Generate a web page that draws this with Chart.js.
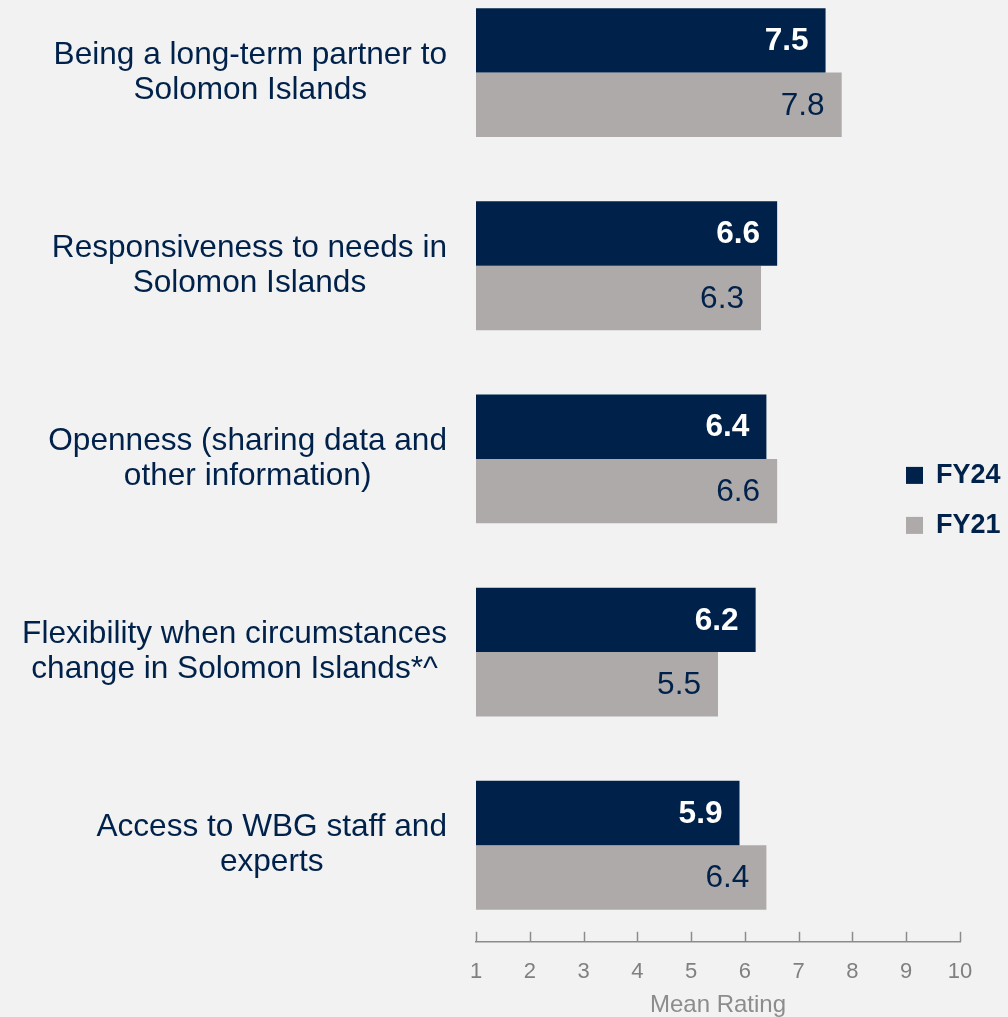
<!DOCTYPE html>
<html>
<head>
<meta charset="utf-8">
<script src="https://cdn.jsdelivr.net/npm/chart.js@4"></script>
<style>
  html, body { margin: 0; padding: 0; background: #f2f2f2; overflow: hidden; }
  #wrap { position: absolute; left: 0; top: -24px; width: 1008px; height: 1044px; }
</style>
</head>
<body>
<div id="wrap"><canvas id="ratingChart"></canvas></div>
<script>
// categories and values
const categories = [
    ['Being a long-term partner to', 'Solomon Islands'],
    ['Responsiveness to needs in', 'Solomon Islands'],
    ['Openness (sharing data and', 'other information)'],
    ['Flexibility when circumstances', 'change in Solomon Islands*^'],
    ['Access to WBG staff and', 'experts']
];
const fy24 = [7.5, 6.6, 6.4, 6.2, 5.9];
const fy21 = [7.8, 6.3, 6.6, 5.5, 6.4];
const xTicks = [1, 2, 3, 4, 5, 6, 7, 8, 9, 10];

const NAVY = '#00224a';
const GREY = '#aeaaaa';
const FONT = "'Liberation Sans', Arial, sans-serif";

// y labels: right aligned block, lines centred inside it
const yLabelPlugin = {
    id: 'yLabels',
    afterDraw(chart) {
        const ctx = chart.ctx;
        const yScale = chart.scales.y;
        const right = chart.chartArea.left - 29;
        ctx.save();
        ctx.font = '31.6px ' + FONT;
        ctx.fillStyle = NAVY;
        ctx.textAlign = 'center';
        ctx.textBaseline = 'middle';
        categories.forEach((lines, i) => {
            const y = yScale.getPixelForValue(i);
            const w = Math.max(...lines.map(l => ctx.measureText(l).width));
            const cx = right - w / 2;
            lines.forEach((l, j) => {
                ctx.fillText(l, cx, y + (j - (lines.length - 1) / 2) * 35);
            });
        });
        ctx.restore();
    }
};

// value labels inside the bar ends
const valueLabelPlugin = {
    id: 'valueLabels',
    afterDatasetsDraw(chart) {
        const ctx = chart.ctx;
        ctx.save();
        ctx.textAlign = 'right';
        ctx.textBaseline = 'middle';
        chart.data.datasets.forEach((ds, di) => {
            const meta = chart.getDatasetMeta(di);
            ctx.font = (di === 0 ? 'bold ' : '') + '31.6px ' + FONT;
            ctx.fillStyle = di === 0 ? '#ffffff' : NAVY;
            meta.data.forEach((bar, i) => {
                ctx.fillText(ds.data[i].toFixed(1), bar.x - 17, bar.y + 1);
            });
        });
        ctx.restore();
    }
};

// small tick marks pointing up from the x axis
const tickMarkPlugin = {
    id: 'tickMarks',
    afterDraw(chart) {
        const ctx = chart.ctx;
        const xScale = chart.scales.x;
        const bottom = chart.chartArea.bottom;
        ctx.save();
        ctx.strokeStyle = '#8c8c8c';
        ctx.lineWidth = 1.5;
        xScale.ticks.forEach(t => {
            const x = Math.round(xScale.getPixelForValue(t.value)) + 0.5;
            ctx.beginPath();
            ctx.moveTo(x, bottom - 10);
            ctx.lineTo(x, bottom);
            ctx.stroke();
        });
        ctx.restore();
    }
};

// legend on the right
const legendPlugin = {
    id: 'sideLegend',
    afterDraw(chart) {
        const ctx = chart.ctx;
        const midY = (chart.chartArea.top + chart.chartArea.bottom) / 2 + 16;
        ctx.save();
        ctx.font = 'bold 27px ' + FONT;
        ctx.textAlign = 'left';
        ctx.textBaseline = 'middle';
        chart.data.datasets.forEach((ds, di) => {
            const y = midY + di * 50;
            ctx.fillStyle = ds.backgroundColor;
            ctx.fillRect(906, y - 8, 17, 17);
            ctx.fillStyle = NAVY;
            ctx.fillText(ds.label, 936, y + 1);
        });
        ctx.restore();
    }
};

const ctx = document.getElementById('ratingChart').getContext('2d');
const chart = new Chart(ctx, {
    type: 'bar',
    data: {
        labels: categories.map(c => c.join(' ')),
        datasets: [{
            label: 'FY24',
            data: fy24,
            backgroundColor: NAVY,
            base: 1
        }, {
            label: 'FY21',
            data: fy21,
            backgroundColor: GREY,
            base: 1
        }]
    },
    options: {
        indexAxis: 'y',
        responsive: true,
        maintainAspectRatio: false,
        animation: false,
        categoryPercentage: 0.667,
        barPercentage: 1,
        layout: { padding: { left: 0, right: 48, top: 0, bottom: 0 } },
        plugins: {
            legend: { display: false },
            tooltip: { enabled: false }
        },
        scales: {
            x: {
                min: 1,
                max: 10,
                afterBuildTicks(scale) {
                    scale.ticks = xTicks.map(v => ({ value: v }));
                },
                grid: { display: false, drawTicks: false },
                border: { display: true, color: '#8c8c8c', width: 1.5 },
                ticks: {
                    color: '#808080',
                    padding: 17,
                    font: { family: FONT, size: 22 }
                },
                title: {
                    display: true,
                    text: 'Mean Rating',
                    color: '#8c8c8c',
                    padding: { top: -11, bottom: 0 },
                    font: { family: FONT, size: 24 }
                }
            },
            y: {
                grid: { display: false },
                border: { display: false },
                ticks: { display: false },
                afterFit(scale) { scale.width = 476; }
            }
        }
    },
    plugins: [yLabelPlugin, valueLabelPlugin, tickMarkPlugin, legendPlugin]
});
</script>
</body>
</html>
